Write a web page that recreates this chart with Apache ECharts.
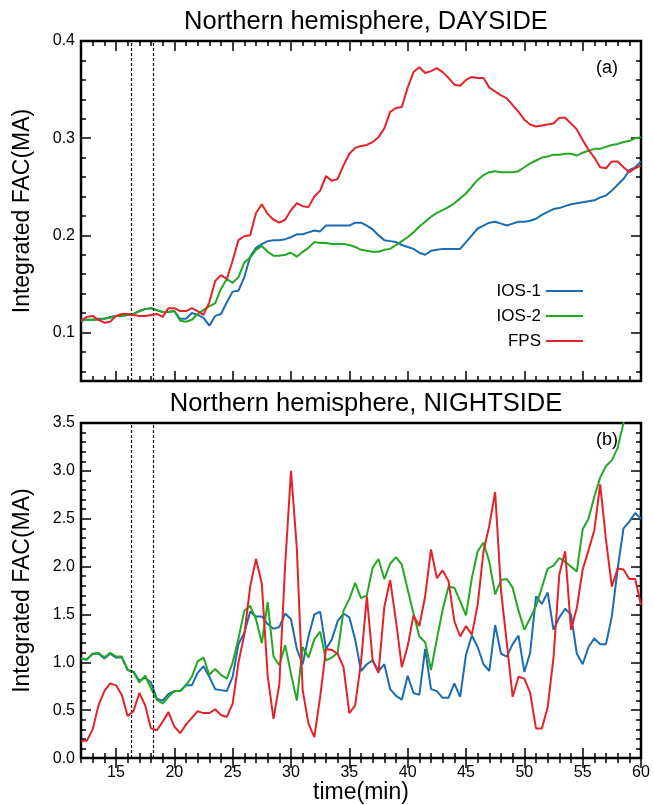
<!DOCTYPE html>
<html><head><meta charset="utf-8">
<script src="https://cdn.jsdelivr.net/npm/echarts@6/dist/echarts.min.js"></script>
<style>html,body{margin:0;padding:0;background:#fff}#c{width:654px;height:805px}</style>
</head><body><div id="c"></div>
<script>
// ---- data (time in minutes, sampled every 0.5 min) ----
const times = [12,12.5,13,13.5,14,14.5,15,15.5,16,16.5,17,17.5,18,18.5,19,19.5,20,20.5,21,21.5,22,22.5,23,23.5,24,24.5,25,25.5,26,26.5,27,27.5,28,28.5,29,29.5,30,30.5,31,31.5,32,32.5,33,33.5,34,34.5,35,35.5,36,36.5,37,37.5,38,38.5,39,39.5,40,40.5,41,41.5,42,42.5,43,43.5,44,44.5,45,45.5,46,46.5,47,47.5,48,48.5,49,49.5,50,50.5,51,51.5,52,52.5,53,53.5,54,54.5,55,55.5,56,56.5,57,57.5,58,58.5,59,59.5,60];

const dayIOS1 = [0.112,0.113,0.113,0.114,0.114,0.116,0.117,0.117,0.118,0.119,0.122,0.124,0.125,0.123,0.121,0.121,0.122,0.114,0.114,0.120,0.118,0.115,0.107,0.117,0.119,0.131,0.142,0.143,0.157,0.178,0.187,0.191,0.194,0.195,0.195,0.196,0.198,0.201,0.201,0.203,0.205,0.204,0.210,0.210,0.210,0.210,0.210,0.213,0.213,0.210,0.206,0.200,0.195,0.194,0.193,0.190,0.188,0.186,0.182,0.180,0.184,0.185,0.186,0.186,0.186,0.186,0.193,0.200,0.207,0.210,0.213,0.214,0.212,0.210,0.212,0.214,0.214,0.215,0.217,0.221,0.224,0.227,0.228,0.230,0.232,0.233,0.234,0.235,0.236,0.239,0.241,0.246,0.252,0.258,0.267,0.270,0.276];
const dayIOS2 = [0.112,0.113,0.113,0.113,0.114,0.115,0.117,0.117,0.118,0.119,0.122,0.124,0.125,0.123,0.121,0.121,0.122,0.112,0.111,0.113,0.119,0.123,0.127,0.130,0.145,0.155,0.151,0.157,0.172,0.177,0.185,0.189,0.183,0.179,0.179,0.180,0.182,0.178,0.183,0.187,0.193,0.192,0.192,0.191,0.191,0.191,0.190,0.188,0.185,0.184,0.183,0.183,0.185,0.186,0.190,0.194,0.198,0.203,0.209,0.214,0.219,0.223,0.226,0.229,0.233,0.238,0.243,0.250,0.257,0.262,0.265,0.266,0.265,0.265,0.265,0.266,0.270,0.274,0.277,0.280,0.281,0.283,0.283,0.284,0.284,0.282,0.285,0.287,0.289,0.289,0.291,0.293,0.294,0.296,0.297,0.300,0.301];
const dayFPS = [0.112,0.116,0.117,0.113,0.110,0.111,0.117,0.119,0.119,0.118,0.117,0.117,0.118,0.119,0.116,0.125,0.125,0.122,0.122,0.125,0.122,0.118,0.131,0.153,0.159,0.155,0.174,0.195,0.199,0.200,0.223,0.232,0.222,0.216,0.213,0.216,0.226,0.233,0.230,0.229,0.240,0.246,0.261,0.256,0.258,0.272,0.284,0.290,0.292,0.293,0.296,0.301,0.310,0.327,0.331,0.332,0.352,0.368,0.373,0.367,0.369,0.372,0.368,0.362,0.355,0.354,0.360,0.363,0.362,0.362,0.352,0.348,0.344,0.341,0.334,0.327,0.319,0.314,0.312,0.313,0.314,0.315,0.321,0.321,0.315,0.309,0.298,0.288,0.280,0.270,0.269,0.276,0.276,0.270,0.265,0.269,0.272];

const nightIOS1 = [1.04,1.03,1.09,1.09,1.04,1.09,1.05,1.05,0.92,0.90,0.81,0.84,0.79,0.62,0.60,0.67,0.70,0.70,0.76,0.76,0.89,0.96,0.85,0.72,0.71,0.70,0.85,1.19,1.31,1.53,1.48,1.48,1.40,1.35,1.37,1.51,1.45,1.14,0.98,1.27,1.50,1.53,1.14,1.24,1.43,1.51,1.47,1.24,0.91,0.98,1.02,0.91,0.98,0.72,0.65,0.61,0.86,0.68,0.66,1.14,0.72,0.70,0.63,0.63,0.78,0.64,1.08,1.28,1.16,0.98,0.91,1.39,1.09,1.06,1.19,1.28,0.90,1.10,1.69,1.61,1.73,1.34,1.47,1.56,1.50,1.09,0.98,1.16,1.25,1.19,1.19,1.48,1.98,2.40,2.47,2.56,2.50];
const nightIOS2 = [1.04,1.03,1.09,1.10,1.05,1.10,1.06,1.06,0.92,0.90,0.79,0.86,0.73,0.61,0.57,0.64,0.70,0.70,0.76,0.85,1.01,1.05,0.87,0.93,0.87,0.83,1.00,1.25,1.54,1.59,1.45,1.20,1.63,1.06,0.97,1.18,0.88,0.60,1.16,1.05,1.24,1.32,1.02,1.05,1.10,1.54,1.66,1.83,1.67,1.70,1.99,2.08,1.87,2.03,2.10,2.02,1.76,1.51,1.27,1.21,0.92,1.24,1.55,1.79,1.78,1.64,1.49,1.88,2.16,2.25,2.05,1.71,1.86,1.87,1.78,1.54,1.34,1.46,1.59,1.78,1.98,2.01,2.09,2.05,2.00,1.95,2.39,2.50,2.73,2.93,3.05,3.11,3.24,3.50,3.85,4.20,4.50];
const nightFPS = [0.18,0.18,0.30,0.55,0.70,0.78,0.76,0.66,0.44,0.49,0.68,0.55,0.31,0.29,0.38,0.48,0.33,0.26,0.35,0.42,0.49,0.47,0.47,0.51,0.45,0.43,0.57,1.00,1.29,1.79,2.08,1.82,0.86,0.41,0.77,2.02,3.00,2.19,0.71,0.36,0.22,0.64,1.14,1.13,1.09,0.95,0.47,0.55,1.00,1.69,1.02,0.89,1.58,1.86,1.43,0.95,1.17,1.49,1.38,1.69,2.18,1.88,1.96,1.85,1.43,1.27,1.38,1.29,1.60,2.16,2.43,2.78,1.75,1.20,0.64,0.85,0.83,0.68,0.31,0.31,0.53,1.05,1.92,2.16,1.34,1.57,1.97,2.17,2.38,2.86,2.28,1.79,1.98,1.97,1.87,1.87,1.60];

const eventTimes = [16.3, 18.2];
const seriesNames = ['IOS-1', 'IOS-2', 'FPS'];
const colors = ['#1a6cb4', '#22a822', '#e3222a'];
const panelTitles = ['Northern hemisphere, DAYSIDE', 'Northern hemisphere, NIGHTSIDE'];
const panelTags = ['(a)', '(b)'];
const xMajorTicks = [15, 20, 25, 30, 35, 40, 45, 50, 55, 60];
const dayYMajorTicks = [0.1, 0.2, 0.3, 0.4];
const dayYMinorTicks = [0.06, 0.08, 0.1, 0.12, 0.14, 0.16, 0.18, 0.2, 0.22, 0.24, 0.26, 0.28, 0.3, 0.32, 0.34, 0.36, 0.38, 0.4];

// ---- layout ----
const grids = [
  { left: 81, width: 560, top: 41, height: 340 },
  { left: 81, width: 560, top: 423, height: 337 }
];
const FONT = 'Liberation Sans, Arial, sans-serif';
const tickStyle = { color: '#000', width: 1.5 };

function xAxesFor(g, withLabels) {
  const base = { gridIndex: g, type: 'value', min: 12, max: 60, axisLine: { show: false }, splitLine: { show: false } };
  const arr = [];
  ['bottom', 'top'].forEach(pos => {
    arr.push(Object.assign({}, base, { position: pos, interval: 1,
      axisLabel: { show: false },
      axisTick: { inside: true, length: 5, lineStyle: tickStyle } }));
    const showLab = withLabels && pos === 'bottom';
    arr.push(Object.assign({}, base, { position: pos,
      axisTick: { inside: true, length: 10, customValues: xMajorTicks, lineStyle: tickStyle },
      axisLabel: { show: showLab, customValues: xMajorTicks, color: '#000', fontSize: 16, fontFamily: FONT, margin: 6 },
      name: showLab ? 'time(min)' : '', nameLocation: 'middle', nameGap: 21,
      nameTextStyle: { fontSize: 23, color: '#000', fontFamily: FONT } }));
  });
  return arr;
}
function yAxesFor(g) {
  const arr = [];
  const day = g === 0;
  const base = { gridIndex: g, type: 'value', min: day ? 0.05 : 0, max: day ? 0.4 : 3.5, axisLine: { show: false }, splitLine: { show: false } };
  ['left', 'right'].forEach(pos => {
    const minorTick = day ? { customValues: dayYMinorTicks } : {};
    arr.push(Object.assign({}, base, { position: pos, interval: day ? undefined : 0.1,
      axisLabel: { show: false },
      axisTick: Object.assign({ inside: true, length: 5, lineStyle: tickStyle }, minorTick) }));
    const showLab = pos === 'left';
    const major = Object.assign({}, base, { position: pos,
      axisTick: { inside: true, length: 10, lineStyle: tickStyle },
      axisLabel: { show: showLab, color: '#000', fontSize: 16, fontFamily: FONT, margin: 6,
        formatter: v => v.toFixed(1) },
      name: showLab ? 'Integrated FAC(MA)' : '', nameLocation: 'middle', nameGap: 47,
      nameTextStyle: { fontSize: 23, color: '#000', fontFamily: FONT } });
    if (day) { major.axisTick.customValues = dayYMajorTicks; major.axisLabel.customValues = dayYMajorTicks; }
    else { major.interval = 0.5; }
    arr.push(major);
  });
  return arr;
}

const xAxis = [].concat(xAxesFor(0, false), xAxesFor(1, true));
const yAxis = [].concat(yAxesFor(0), yAxesFor(1));

const panels = [[dayIOS1, dayIOS2, dayFPS], [nightIOS1, nightIOS2, nightFPS]];
const series = [];
panels.forEach((vals, g) => {
  vals.forEach((arr, k) => {
    const s = {
      name: seriesNames[k], type: 'line', xAxisIndex: g * 4 + 1, yAxisIndex: g * 4 + 1,
      data: times.map((t, i) => [t, arr[i]]),
      symbol: 'none', showSymbol: false, clip: true,
      lineStyle: { color: colors[k], width: 2 }, itemStyle: { color: colors[k] },
      animation: false, z: 3 + k
    };
    if (k === 0) {
      s.markLine = { silent: true, symbol: ['none', 'none'], animation: false,
        label: { show: false },
        lineStyle: { color: '#000', type: [3, 2], width: 1.2 },
        data: eventTimes.map(t => ({ xAxis: t })) };
    }
    series.push(s);
  });
});

const option = {
  backgroundColor: '#fff',
  animation: false,
  textStyle: { fontFamily: FONT },
  title: panelTitles.map((t, g) => ({
    text: t, left: grids[g].left + grids[g].width / 2, textAlign: 'center',
    top: g === 0 ? 4 : 386,
    textStyle: { fontSize: 25.5, fontWeight: 'normal', color: '#000', fontFamily: FONT }
  })),
  grid: grids.map(gr => Object.assign({ show: true, borderColor: '#000', borderWidth: 2.5, backgroundColor: 'transparent' }, gr)),
  legend: {
    data: seriesNames, orient: 'vertical', align: 'right', right: 66, top: 276,
    icon: 'rect', itemWidth: 37, itemHeight: 2, itemGap: 5, selectedMode: false,
    textStyle: { fontSize: 17, color: '#000', fontFamily: FONT, lineHeight: 20 }
  },
  xAxis, yAxis, series,
  graphic: panelTags.map((t, g) => ({
    type: 'text', right: 654 - 618, top: g === 0 ? 59 : 431,
    style: { text: t, fontSize: 18, fill: '#000', fontFamily: FONT }
  }))
};
echarts.init(document.getElementById('c'), null, { renderer: 'canvas' }).setOption(option);
</script></body></html>
